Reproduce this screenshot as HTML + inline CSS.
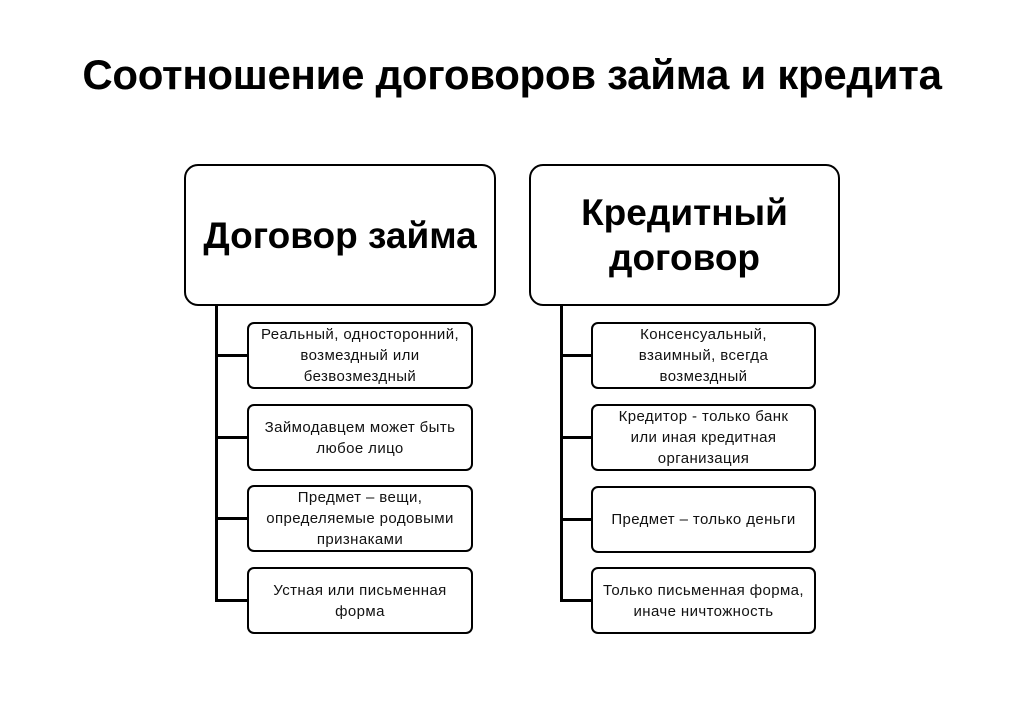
<!DOCTYPE html>
<html><head><meta charset="utf-8"><style>
body{margin:0;width:1024px;height:708px;background:#fff;font-family:"Liberation Sans",sans-serif;position:relative;overflow:hidden}
.t{position:absolute;left:0;width:1024px;top:51px;line-height:48px;text-align:center;font-weight:bold;font-size:42px;color:#000;letter-spacing:-0.3px}
.b{position:absolute;box-sizing:border-box;border:2.5px solid #000;border-radius:14px;display:flex;align-items:center;justify-content:center;text-align:center;font-weight:bold;font-size:37px;line-height:45px;color:#000}
.c{position:absolute;box-sizing:border-box;border:2.5px solid #000;border-radius:7px;display:flex;align-items:center;justify-content:center;text-align:center;font-size:15px;letter-spacing:0.4px;line-height:21px;color:#111}
.v{position:absolute;width:3px;background:#000}
.h{position:absolute;height:3px;background:#000}
</style></head><body>
<div class="t">Соотношение договоров займа и кредита</div>
<div class="b" style="left:184px;top:164px;width:312px;height:142px">Договор займа</div>
<div class="b" style="left:529px;top:164px;width:311px;height:142px">Кредитный<br>договор</div>
<div class="v" style="left:215px;top:306px;height:296px"></div>
<div class="v" style="left:560px;top:306px;height:296px"></div>
<div class="h" style="left:215px;top:354px;width:33px"></div>
<div class="h" style="left:215px;top:436px;width:33px"></div>
<div class="h" style="left:215px;top:517px;width:33px"></div>
<div class="h" style="left:215px;top:599px;width:33px"></div>
<div class="h" style="left:560px;top:354px;width:32px"></div>
<div class="h" style="left:560px;top:436px;width:32px"></div>
<div class="h" style="left:560px;top:518px;width:32px"></div>
<div class="h" style="left:560px;top:599px;width:32px"></div>
<div class="c" style="left:247px;top:322px;width:226px;height:67px">Реальный, односторонний,<br>возмездный или<br>безвозмездный</div>
<div class="c" style="left:247px;top:404px;width:226px;height:67px">Займодавцем может быть<br>любое лицо</div>
<div class="c" style="left:247px;top:485px;width:226px;height:67px">Предмет – вещи,<br>определяемые родовыми<br>признаками</div>
<div class="c" style="left:247px;top:567px;width:226px;height:67px">Устная или письменная<br>форма</div>
<div class="c" style="left:591px;top:322px;width:225px;height:67px">Консенсуальный,<br>взаимный, всегда<br>возмездный</div>
<div class="c" style="left:591px;top:404px;width:225px;height:67px">Кредитор - только банк<br>или иная кредитная<br>организация</div>
<div class="c" style="left:591px;top:486px;width:225px;height:67px">Предмет – только деньги</div>
<div class="c" style="left:591px;top:567px;width:225px;height:67px">Только письменная форма,<br>иначе ничтожность</div>
</body></html>
